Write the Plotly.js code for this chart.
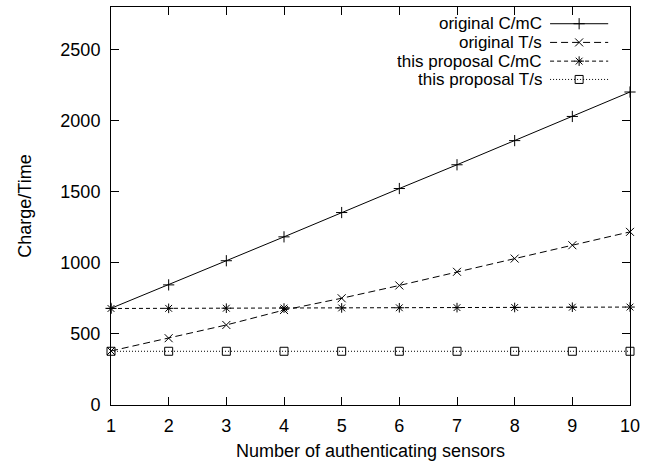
<!DOCTYPE html>
<html>
<head>
<meta charset="utf-8">
<script src="https://cdn.plot.ly/plotly-3.0.1.min.js"></script>
<style>html,body{margin:0;padding:0;background:#fff;}#chart{width:656px;height:465px;}</style>
</head>
<body>
<div id="chart"></div>
<script>
// Data
var sensors = [1, 2, 3, 4, 5, 6, 7, 8, 9, 10];
var originalCmC = [680, 845, 1015, 1183, 1354, 1523, 1690, 1860, 2030, 2202];
var originalTs = [380, 470, 563, 668, 751, 841, 937, 1030, 1124, 1218];
var proposalCmC = [679, 680, 681, 682, 683, 684, 685, 686, 688, 689];
var proposalTs = [378, 378, 378, 378, 378, 378, 378, 378, 378, 378];
var seriesNames = ["original C/mC", "original T/s", "this proposal C/mC", "this proposal T/s"];
var yTicks = [0, 500, 1000, 1500, 2000, 2500];

var styles = [
  {dash: "solid", symbol: "cross-thin-open", size: 8},
  {dash: "7px,4px", symbol: "x-thin-open", size: 8},
  {dash: "4px,3px", symbol: "asterisk-open", size: 8},
  {dash: "1px,2px", symbol: "square-open", size: 8}
];
var seriesData = [originalCmC, originalTs, proposalCmC, proposalTs];

var traces = [];
for (var i = 0; i < seriesData.length; i++) {
  traces.push({
    x: sensors, y: seriesData[i], type: "scatter", mode: "lines+markers",
    name: seriesNames[i], showlegend: false, cliponaxis: false,
    line: {color: "#000", width: 1, dash: styles[i].dash},
    marker: {symbol: styles[i].symbol, size: styles[i].size, color: "#000", line: {color: "#000", width: 1}}
  });
}

// gnuplot-style legend (text right-aligned, sample to its right) on an overlay axis in [0,1]
var legendY = [0.958, 0.911, 0.864, 0.818];
var annotations = [];
for (var j = 0; j < seriesNames.length; j++) {
  traces.push({
    x: [0.846, 0.958], y: [legendY[j], legendY[j]], xaxis: "x2", yaxis: "y2",
    type: "scatter", mode: "lines", showlegend: false, hoverinfo: "skip",
    line: {color: "#000", width: 1, dash: styles[j].dash}
  });
  traces.push({
    x: [0.902], y: [legendY[j]], xaxis: "x2", yaxis: "y2",
    type: "scatter", mode: "markers", showlegend: false, hoverinfo: "skip",
    marker: {symbol: styles[j].symbol, size: styles[j].size, color: "#000", line: {color: "#000", width: 1}}
  });
  annotations.push({
    xref: "paper", yref: "paper", x: 0.832, y: legendY[j],
    xanchor: "right", yanchor: "middle", showarrow: false, height: 17, borderpad: 0,
    text: seriesNames[j], font: {size: 17, color: "#000"}
  });
}

var axisCommon = {
  showline: true, linecolor: "#000", linewidth: 1, mirror: "ticks",
  ticks: "inside", ticklen: 8, tickwidth: 1, tickcolor: "#000",
  showgrid: false, zeroline: false,
  tickfont: {size: 18, color: "#000"}
};

var layout = {
  width: 656, height: 465,
  margin: {l: 111, r: 26, t: 7, b: 60},
  paper_bgcolor: "#fff", plot_bgcolor: "#fff",
  font: {family: "Liberation Sans, Arial, sans-serif", size: 18, color: "#000"},
  showlegend: false, hovermode: false,
  xaxis: Object.assign({}, axisCommon, {
    range: [1, 10], tickvals: sensors, ticktext: sensors.map(String),
    ticklabelstandoff: 4,
    title: {text: "Number of authenticating sensors", font: {size: 18}, standoff: 9}
  }),
  yaxis: Object.assign({}, axisCommon, {
    range: [0, 2800], tickvals: yTicks, ticktext: yTicks.map(String),
    ticklabelstandoff: 6,
    title: {text: "Charge/Time", font: {size: 18}, standoff: 24}
  }),
  xaxis2: {overlaying: "x", range: [0, 1], visible: false, fixedrange: true},
  yaxis2: {overlaying: "y", range: [0, 1], visible: false, fixedrange: true},
  annotations: annotations
};

Plotly.newPlot("chart", traces, layout, {displayModeBar: false, staticPlot: true});
</script>
</body>
</html>
